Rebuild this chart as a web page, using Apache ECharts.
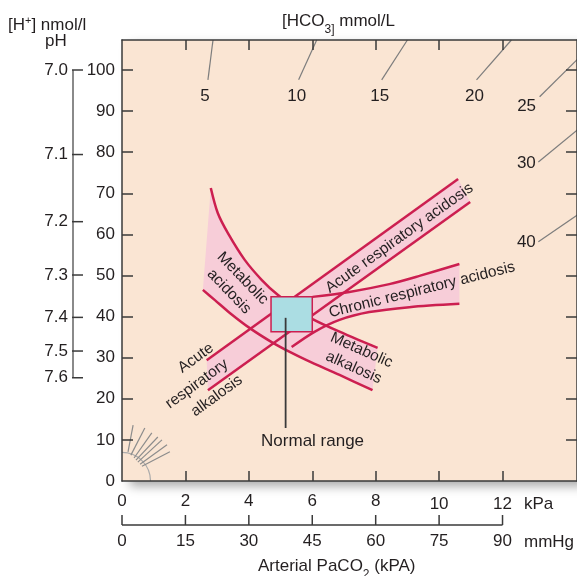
<!DOCTYPE html>
<html>
<head>
<meta charset="utf-8">
<title>Acid-base nomogram</title>
<script src="https://cdn.jsdelivr.net/npm/echarts@6/dist/echarts.min.js"></script>
<style>
html, body { margin: 0; padding: 0; background: #fff; }
#main { width: 577px; height: 576px; }
</style>
</head>
<body>
<div id="main"></div>
<script>
// x = arterial PaCO2 (kPa), y = [H+] (nmol/l)
var kpaTicks = [0, 2, 4, 6, 8, 10, 12];
var mmHgTicks = [0, 15, 30, 45, 60, 75, 90];
var hTicks = [0, 10, 20, 30, 40, 50, 60, 70, 80, 90, 100];
var phTicks = [7.0, 7.1, 7.2, 7.3, 7.4, 7.5, 7.6];

// iso-bicarbonate lines ([HCO3] mmol/L), end points
var hco3Values = [5, 10, 15, 20, 25, 30, 40];
var hco3Outer = [[2.87, 107.3], [6.14, 107.3], [9.0, 107.3], [12.28, 107.3], [14.36, 102.6], [14.36, 85.4], [14.36, 64.7]];
var hco3Inner = [[2.71, 97.6], [5.57, 97.6], [8.19, 97.6], [11.18, 97.6], [13.17, 93.5], [13.13, 77.6], [13.13, 58.2]];

// small fan of lines near the origin
var fanRadius = 0.9;
var fanInner = [[0.19, 7.1], [0.28, 6.3], [0.38, 5.6], [0.44, 5.1], [0.50, 4.6], [0.57, 4.1], [0.63, 3.6]];
var fanOuter = [[0.35, 13.6], [0.72, 12.9], [0.94, 11.7], [1.13, 10.7], [1.26, 10.0], [1.42, 8.8], [1.51, 7.1]];

// acute respiratory acidosis / alkalosis band
var araUpper = [[2.67, 29.4], [10.60, 73.5]];
var araLower = [[2.71, 22.1], [10.98, 67.9]];
// metabolic acidosis / alkalosis band
var metUpper = [[2.80, 71.3], [3.02, 65.2], [3.34, 60.3], [3.87, 53.8], [4.41, 48.9], [4.91, 45.3], [5.44, 42.3], [6.01, 39.4], [7.02, 35.8], [8.06, 32.4]];
var metLower = [[2.55, 46.5], [2.93, 44.0], [3.40, 40.9], [4.03, 37.2], [4.72, 33.8], [5.29, 31.4], [5.82, 29.4], [6.86, 25.8], [7.90, 22.1]];
// chronic respiratory acidosis band
var craUpper = [[6.01, 44.8], [7.17, 46.0], [8.43, 47.9], [9.38, 49.9], [10.64, 52.8]];
var craLower = [[5.35, 32.6], [6.07, 36.3], [6.86, 39.2], [7.80, 41.1], [9.06, 42.3], [10.64, 43.1]];
// normal range box
var normalPaco2 = [4.7, 6.0];
var normalH = [36.3, 44.8];
var normalPointer = [[5.16, 39.7], [5.16, 12.9]];

var FONT = '"Liberation Sans", Arial, sans-serif';
var INK = '#231f20';
var AXIS = '#3a3a3a';
var PEACH = '#fae5d3';
var PINK = '#f7cdd8';
var CRIMSON = '#cc1f50';
var BOX = '#abdde3';

// plot geometry
var plotLeft = 122, plotTop = 40, plotH = 441, pxPerKpa = 31.78;
var yMax = 107.3;
var xMax = (577 + 1 - plotLeft) / pxPerKpa;
var phOffset = 49, mmHgOffset = 44, tickLen = 10;
function hOf(ph) { return Math.pow(10, 9 - ph); }
var phH = phTicks.map(hOf);

var notes = [
	{ text: 'Metabolic\nacidosis', at: [3.59, 47.7], rotate: -46 },
	{ text: 'Acute respiratory acidosis', at: [8.75, 59.1], rotate: 35.6 },
	{ text: 'Chronic respiratory acidosis', at: [9.46, 46.5], rotate: 14 },
	{ text: 'Metabolic\nalkalosis', at: [7.43, 29.7], rotate: -24 },
	{ text: 'Acute', at: [2.33, 29.9], rotate: 36 },
	{ text: 'respiratory', at: [2.36, 23.6], rotate: 36 },
	{ text: 'alkalosis', at: [2.99, 20.7], rotate: 36 },
	{ text: 'Normal range', at: [6.01, 9.7], rotate: 0, size: 17 }
];
var hco3LabelShift = [[-3, 16], [-2, 16], [-2, 16], [-2, 16], [-13, 10], [-12, 1], [-12, 1]];

function outline(upper, lower) {
	return upper.concat(lower.slice().reverse());
}
var bands = [outline(araUpper, araLower), outline(metUpper, metLower), outline(craUpper, craLower)];

function borderLine(pts, smooth) {
	return {
		type: 'line', data: pts, smooth: smooth, symbol: 'none', silent: true, z: 4,
		lineStyle: { color: CRIMSON, width: 2.5 }
	};
}

function tick(values, len) {
	return { show: true, inside: true, length: len || tickLen, lineStyle: { color: AXIS, width: 1.5 }, customValues: values };
}

function label(values, margin, extra) {
	var l = { show: true, customValues: values, margin: margin, fontSize: 17, color: INK, fontFamily: FONT };
	for (var k in extra) l[k] = extra[k];
	return l;
}

function seg(x1, y1, x2, y2, color, width) {
	return { type: 'line', shape: { x1: x1, y1: y1, x2: x2, y2: y2 }, style: { stroke: color, lineWidth: width } };
}

var solidLine = { show: true, onZero: false, lineStyle: { color: AXIS, width: 1.5 } };

var chart = echarts.init(document.getElementById('main'));
var option = {
	animation: false,
	textStyle: { fontFamily: FONT },
	grid: { left: plotLeft, top: plotTop, right: -1, height: plotH },
	xAxis: [
		{
			type: 'value', min: 0, max: xMax, position: 'bottom', z: 10,
			axisLine: solidLine, axisTick: tick(kpaTicks.slice(1)),
			axisLabel: label(kpaTicks, 12, {
				formatter: function (v) { return v >= 10 ? '{lo|' + v + '}' : String(v); },
				rich: { lo: { fontSize: 17, color: INK, fontFamily: FONT, padding: [3, 0, 0, 0] } }
			}),
			splitLine: { show: false }
		},
		{
			type: 'value', min: 0, max: xMax, position: 'top', z: 10,
			axisLine: solidLine, axisTick: tick(kpaTicks.slice(1)),
			axisLabel: { show: false }, splitLine: { show: false }
		},
		{
			// mmHg scale under the kPa one (7.5 mmHg per kPa); its line and ticks are drawn below
			type: 'value', min: 0, max: xMax * 7.5, position: 'bottom', offset: mmHgOffset, z: 10,
			axisLine: { show: false }, axisTick: { show: false },
			axisLabel: label(mmHgTicks, 8), splitLine: { show: false }
		}
	],
	yAxis: [
		{
			type: 'value', min: 0, max: yMax, position: 'left', z: 10,
			axisLine: solidLine, axisTick: tick(hTicks.slice(1), 11),
			axisLabel: label(hTicks, 7), splitLine: { show: false }
		},
		{
			type: 'value', min: 0, max: yMax, position: 'right', z: 10,
			axisLine: solidLine, axisTick: tick(hTicks.slice(1), 11),
			axisLabel: { show: false }, splitLine: { show: false }
		},
		{
			// pH scale beside the [H+] one; its line and ticks are drawn below
			type: 'value', min: 0, max: yMax, position: 'left', offset: phOffset, z: 10,
			axisLine: { show: false }, axisTick: { show: false },
			axisLabel: label(phH, 5, {
				formatter: function (v) {
					for (var i = 0; i < phH.length; i++) {
						if (Math.abs(phH[i] - v) < 0.01) return phTicks[i].toFixed(1);
					}
					return '';
				}
			}),
			splitLine: { show: false }
		}
	],
	graphic: [
		{ type: 'text', left: 8, top: 15, z: 10, style: {
			text: '{m|[H}{s|+}{m|] nmol/l}', fill: INK,
			rich: { m: { fontSize: 17, fontFamily: FONT, fill: INK, lineHeight: 20 }, s: { fontSize: 11, fontFamily: FONT, fill: INK, lineHeight: 11, verticalAlign: 'top' } }
		} },
		{ type: 'text', left: 45, top: 31, z: 10, style: { text: 'pH', fill: INK, fontSize: 17, fontFamily: FONT, lineHeight: 20 } },
		{ type: 'text', left: 282, top: 13, z: 10, style: {
			text: '{m|[HCO}{s|3]}{m| mmol/L}', fill: INK,
			rich: { m: { fontSize: 17, fontFamily: FONT, fill: INK, lineHeight: 28 }, s: { fontSize: 12, fontFamily: FONT, fill: INK, lineHeight: 12, verticalAlign: 'bottom' } }
		} },
		{ type: 'text', left: 258, top: 558, z: 10, style: {
			text: '{m|Arterial PaCO}{s|2}{m| (kPA)}', fill: INK,
			rich: { m: { fontSize: 17, fontFamily: FONT, fill: INK, lineHeight: 28 }, s: { fontSize: 12, fontFamily: FONT, fill: INK, lineHeight: 12, verticalAlign: 'bottom' } }
		} },
		{ type: 'text', left: 524, top: 494, z: 10, style: { text: 'kPa', fill: INK, fontSize: 17, fontFamily: FONT, lineHeight: 20 } },
		{ type: 'text', left: 524, top: 532, z: 10, style: { text: 'mmHg', fill: INK, fontSize: 17, fontFamily: FONT, lineHeight: 20 } }
	],
	series: [
		// plot background with its drop shadow, plus the pH and mmHg scale lines and ticks
		{
			type: 'custom', silent: true, z: 0,
			data: [[0, 0]],
			renderItem: function (params, api) {
				var a = api.coord([0, yMax]), b = api.coord([xMax, 0]);
				var o = api.coord([0, 0]), e = api.coord([12, 0]);
				var p1 = api.coord([0, 100]), p2 = api.coord([0, hOf(7.6)]);
				var mmY = o[1] + mmHgOffset, phX = o[0] - phOffset;
				var children = [
					{ type: 'rect', shape: { x: a[0], y: a[1], width: b[0] - a[0], height: b[1] - a[1] },
					  style: { fill: PEACH, shadowBlur: 10, shadowColor: 'rgba(0,0,0,0.35)', shadowOffsetX: 8, shadowOffsetY: 5 } },
					seg(o[0], mmY, e[0], mmY, AXIS, 1.5),
					seg(phX, p1[1], phX, p2[1], '#8a8a8a', 2)
				];
				mmHgTicks.forEach(function (m) {
					var x = api.coord([m / 7.5, 0])[0];
					children.push(seg(x, mmY, x, mmY - tickLen, AXIS, 1.5));
				});
				phH.forEach(function (h) {
					var y = api.coord([0, h])[1];
					children.push(seg(phX - 1, y, phX + tickLen, y, AXIS, 1.5));
				});
				return { type: 'group', children: children };
			}
		},
		// iso-bicarbonate lines with their values
		{
			type: 'custom', silent: true, z: 2,
			data: hco3Outer,
			renderItem: function (params, api) {
				var i = params.dataIndex;
				var a = api.coord(hco3Outer[i]), b = api.coord(hco3Inner[i]);
				return { type: 'group', children: [
					seg(a[0], a[1], b[0], b[1], '#7d7d7d', 1.2),
					{ type: 'text', x: b[0] + hco3LabelShift[i][0], y: b[1] + hco3LabelShift[i][1],
					  style: { text: String(hco3Values[i]), fill: INK, fontSize: 17, fontFamily: FONT, align: 'center', verticalAlign: 'middle' } }
				] };
			}
		},
		// fan near origin
		{
			type: 'custom', silent: true, z: 2,
			data: [[0, 0]],
			renderItem: function (params, api) {
				var o = api.coord([0, 0]);
				var r = api.coord([fanRadius, 0])[0] - o[0];
				var children = [{ type: 'arc', shape: { cx: o[0], cy: o[1], r: r, startAngle: -Math.PI / 2, endAngle: 0, clockwise: true },
					style: { stroke: '#ababab', fill: null, lineWidth: 1.2 } }];
				for (var k = 0; k < fanInner.length; k++) {
					var a = api.coord(fanInner[k]), b = api.coord(fanOuter[k]);
					children.push(seg(a[0], a[1], b[0], b[1], '#8c8c8c', 1.2));
				}
				return { type: 'group', children: children };
			}
		},
		// pink band fills
		{
			type: 'custom', silent: true, z: 3,
			data: bands.map(function (b) { return b[0]; }),
			renderItem: function (params, api) {
				var pts = bands[params.dataIndex].map(function (p) { return api.coord(p); });
				return { type: 'polygon', shape: { points: pts }, style: { fill: PINK } };
			}
		},
		borderLine(araUpper, false),
		borderLine(araLower, false),
		borderLine(metUpper, 0.3),
		borderLine(metLower, 0.3),
		borderLine(craUpper, 0.3),
		borderLine(craLower, 0.3),
		// normal range box
		{
			type: 'custom', silent: true, z: 5,
			data: [[normalPaco2[0], normalH[1]]],
			renderItem: function (params, api) {
				var a = api.coord([normalPaco2[0], normalH[1]]), b = api.coord([normalPaco2[1], normalH[0]]);
				return { type: 'rect', shape: { x: a[0], y: a[1], width: b[0] - a[0], height: b[1] - a[1] },
					style: { fill: BOX, stroke: CRIMSON, lineWidth: 1.5 } };
			}
		},
		{
			type: 'line', data: normalPointer, symbol: 'none', silent: true, z: 6,
			lineStyle: { color: '#3a3a3a', width: 1.8 }
		},
		// region labels
		{
			type: 'custom', silent: true, z: 7,
			data: notes.map(function (n) { return n.at; }),
			renderItem: function (params, api) {
				var n = notes[params.dataIndex];
				var p = api.coord(n.at);
				return { type: 'text', x: p[0], y: p[1], rotation: n.rotate * Math.PI / 180,
					style: { text: n.text, fill: INK, fontSize: n.size || 15.5, fontFamily: FONT, lineHeight: 19,
					         align: 'center', verticalAlign: 'middle' } };
			}
		}
	]
};
chart.setOption(option);
</script>
</body>
</html>
